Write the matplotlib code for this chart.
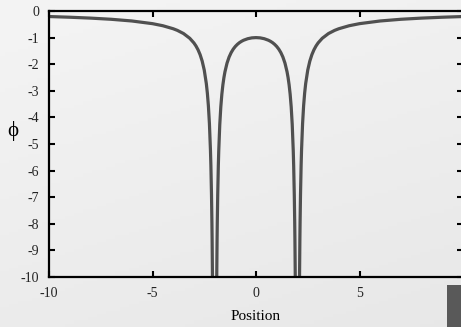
"""Potential phi vs position for two point charges."""
import numpy as np
import matplotlib
matplotlib.use("Agg")
import matplotlib.pyplot as plt
from matplotlib.patches import Rectangle

# curve, split at the two singularities
left_x = [-10, -9, -8, -7, -6, -5, -4.5, -4, -3.8, -3.5, -3.2, -3, -2.9, -2.8, -2.7,
          -2.6, -2.5, -2.4, -2.35, -2.3, -2.25, -2.2, -2.18, -2.15, -2.13, -2.12,
          -2.1, -2.08]
left_phi = [-0.208, -0.234, -0.267, -0.311, -0.375, -0.476, -0.554, -0.667, -0.728,
            -0.848, -1.026, -1.2, -1.315, -1.458, -1.641, -1.884, -2.222, -2.727,
            -3.087, -3.566, -4.235, -5.238, -5.795, -6.908, -7.934, -8.576, -10.244,
            -12.745]
mid_x = [-1.92, -1.9, -1.88, -1.87, -1.85, -1.82, -1.8, -1.75, -1.7, -1.65, -1.6,
         -1.55, -1.5, -1.4, -1.3, -1.2, -1.1, -1.0, -0.9, -0.8, -0.7, -0.6, -0.4,
         -0.2, 0, 0.2, 0.4, 0.6, 0.7, 0.8, 0.9, 1.0, 1.1, 1.2, 1.3, 1.4, 1.5, 1.55,
         1.6, 1.65, 1.7, 1.75, 1.8, 1.82, 1.85, 1.87, 1.88, 1.9, 1.92]
mid_phi = [-12.76, -10.256, -8.591, -7.950, -6.927, -5.818, -5.263, -4.267, -3.603,
           -3.131, -2.778, -2.504, -2.286, -1.961, -1.732, -1.563, -1.434, -1.333,
           -1.254, -1.190, -1.140, -1.099, -1.042, -1.010, -1.0, -1.010, -1.042,
           -1.099, -1.140, -1.190, -1.254, -1.333, -1.434, -1.563, -1.732, -1.961,
           -2.286, -2.504, -2.778, -3.131, -3.603, -4.267, -5.263, -5.818, -6.927,
           -7.950, -8.591, -10.256, -12.76]
right_x = [2.08, 2.1, 2.12, 2.13, 2.15, 2.18, 2.2, 2.25, 2.3, 2.35, 2.4, 2.5, 2.6,
           2.7, 2.8, 2.9, 3, 3.2, 3.5, 3.8, 4, 4.5, 5, 6, 7, 8, 9, 10]
right_phi = [-12.745, -10.244, -8.576, -7.934, -6.908, -5.795, -5.238, -4.235, -3.566,
             -3.087, -2.727, -2.222, -1.884, -1.641, -1.458, -1.315, -1.2, -1.026,
             -0.848, -0.728, -0.667, -0.554, -0.476, -0.375, -0.311, -0.267, -0.234,
             -0.208]

x_ticks = [-10, -5, 0, 5, 10]
x_labels = ["-10", "-5", "0", "5", ""]  # "10" falls off the right edge
y_ticks = [0, -1, -2, -3, -4, -5, -6, -7, -8, -9, -10]

plt.rcParams["font.family"] = ["Liberation Serif", "DejaVu Serif"]
plt.rcParams["axes.unicode_minus"] = False

W, H = 461, 327
fig = plt.figure(figsize=(W / 100, H / 100), dpi=100)

# slide-like grey gradient background
bg = fig.add_axes([0, 0, 1, 1], zorder=-10)
yy, xx = np.mgrid[0:1:100j, 0:1:100j]
grad = 0.955 - 0.05 * (0.7 * yy + 0.3 * xx)
bg.imshow(grad, cmap="gray", vmin=0, vmax=1, aspect="auto", extent=[0, 1, 0, 1])
bg.axis("off")

ax = fig.add_axes([49 / W, 1 - 277 / H, 414 / W, 266 / H])
ax.patch.set_alpha(0)
line_kw = dict(color="#505050", lw=2.3, solid_capstyle="butt", solid_joinstyle="round")
ax.plot(left_x, left_phi, **line_kw)
ax.plot(mid_x, mid_phi, **line_kw)
ax.plot(right_x, right_phi, **line_kw)

ax.set_xlim(-10, 10)
ax.set_ylim(-10, 0)
ax.set_xticks(x_ticks)
ax.set_xticklabels(x_labels)
ax.set_yticks(y_ticks)
ax.tick_params(direction="in", length=4, width=1.5, top=True, right=True,
               labelsize=10, colors="black", labelcolor="#222222")
ax.tick_params(axis="x", pad=7)
ax.tick_params(axis="y", pad=7)
for s in ax.spines.values():
    s.set_linewidth(1.6)

fig.text(256 / W, 1 - 317 / H, "Position", ha="center", va="center", fontsize=11)
fig.text(13 / W, 1 - 131 / H, "\u03d5", ha="center", va="center", fontsize=15)

# dark box in the lower right corner
fig.patches.append(Rectangle((447 / W, 0), 14 / W, 42 / H, transform=fig.transFigure,
                             facecolor="#595959", edgecolor="none", zorder=5))

fig.savefig("out.png", dpi=100)
